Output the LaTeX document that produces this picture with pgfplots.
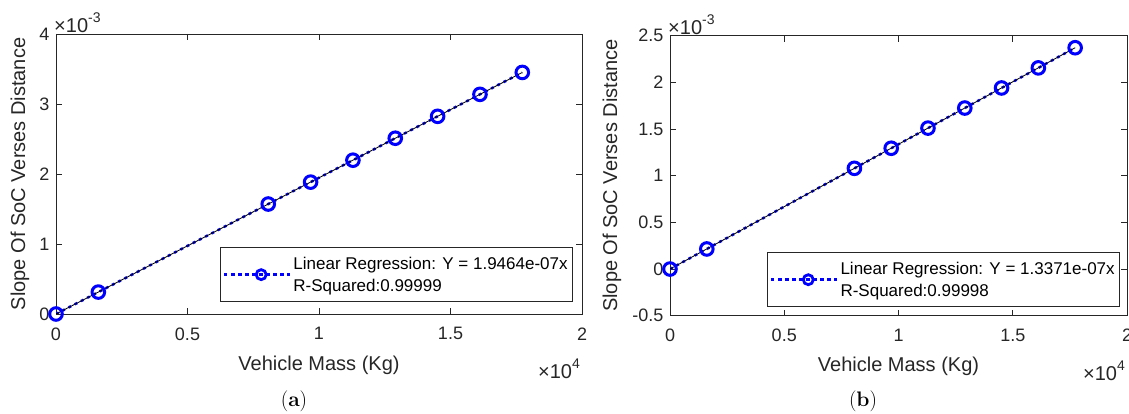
\documentclass[border=0pt]{standalone}
\usepackage{pgfplots}
\pgfplotsset{compat=1.18}
\usepackage{fontspec}
\newfontfamily\arial{Liberation Sans}

\pgfplotsset{
  matlab/.style={
    scale only axis,
    font=\arial\fontsize{18}{20}\selectfont,
    /pgf/number format/assume math mode=true,
    axis line style={black!85, line width=0.8pt},
    tick style={black!85, line width=0.8pt},
    tick align=inside,
    major tick length=6pt,
    every tick label/.append style={text=black!85},
    xticklabel style={yshift=-10pt},
    yticklabel style={xshift=-3pt},
    scaled x ticks=base 10:-4,
    scaled y ticks=base 10:3,
    xtick scale label code/.code={\arial\fontsize{20}{22}\selectfont ×10\raisebox{0.5em}{\fontsize{14}{15}\selectfont 4}},
    ytick scale label code/.code={\arial\fontsize{20}{22}\selectfont ×10\raisebox{0.5em}{\fontsize{14}{15}\selectfont -3}},
    every x tick scale label/.style={at={(rel axis cs:1,0)}, anchor=base east, xshift=-2pt, yshift=-55pt, inner sep=0pt, text=black!85},
    every y tick scale label/.style={at={(rel axis cs:0,1)}, anchor=base west, xshift=1pt, yshift=1.5pt, inner sep=0pt, text=black!85},
    xlabel style={font=\arial\fontsize{20}{22}\selectfont, text=black!85, at={(axis description cs:0.5,0)}, anchor=center, yshift=-51pt},
    ylabel style={font=\arial\fontsize{20}{22}\selectfont, text=black!85},
    xmin=0, xmax=20000,
    xtick={0,5000,10000,15000,20000},
    legend style={anchor=south east, draw=black!85, line width=0.8pt, fill=white,
      font=\arial\fontsize{17}{22}\selectfont, cells={align=left}, inner xsep=3pt, inner ysep=7pt},
    legend image code/.code={\path (-8pt,0pt) -- (58pt,0pt);\draw[mark repeat=2, mark phase=2, ##1, mark size=5pt, mark options={solid, line width=2.8pt}] plot coordinates {(0pt,0pt) (29pt,0pt) (58pt,0pt)};},
    data/.style={blue, line width=2.5pt, dash pattern=on 3pt off 4pt, mark=o, mark size=6.3pt, mark options={solid, line width=3pt}},
    fit/.style={black, line width=0.8pt, no marks, forget plot},
  }
}

\pgfplotstableread{
x y
0 0
1610 0.000313
8070 0.001571
9680 0.001884
11290 0.002197
12900 0.002511
14510 0.002824
16120 0.003138
17730 0.003451
}\dataA

\pgfplotstableread{
x y
0 0
1610 0.000215
8070 0.001079
9680 0.001294
11290 0.001510
12900 0.001725
14510 0.001940
16120 0.002155
17730 0.002371
}\dataB

\begin{document}
\begin{tikzpicture}
\useasboundingbox (0,0) rectangle (1129pt,414pt);

\begin{axis}[matlab,
  at={(56pt,100pt)}, anchor=south west,
  width=526pt, height=280pt,
  ymin=0, ymax=0.004,
  ytick={0,0.001,0.002,0.003,0.004},
  xlabel={Vehicle Mass (Kg)},
  ylabel={Slope Of SoC Verses Distance},
  ylabel style={at={(axis description cs:-0.0684,0.5)}, anchor=center},
  legend style={at={(rel axis cs:0.983,0.043)}},
]
\addplot[data] table {\dataA};
\addlegendentry{Linear Regression: Y = 1.9464e-07x\\R-Squared:0.99999}
\addplot[fit] coordinates {(0,0) (17730,0.003451)};
\end{axis}

\begin{axis}[matlab,
  at={(670pt,98.3pt)}, anchor=south west,
  width=457pt, height=280pt,
  ymin=-0.0005, ymax=0.0025,
  ytick={-0.0005,0,0.0005,0.001,0.0015,0.002,0.0025},
  xlabel={Vehicle Mass (Kg)},
  ylabel={Slope Of SoC Verses Distance},
  ylabel style={at={(axis description cs:-0.1269,0.5)}, anchor=center},
  legend style={at={(rel axis cs:0.985,0.031)}},
]
\addplot[data] table {\dataB};
\addlegendentry{Linear Regression: Y = 1.3371e-07x\\R-Squared:0.99998}
\addplot[fit] coordinates {(0,0) (17730,0.002371)};
\end{axis}

\node[font=\fontsize{21}{23}\selectfont] at (294pt,13pt) {(\textbf{a})};
\node[font=\fontsize{21}{23}\selectfont] at (863pt,13pt) {(\textbf{b})};
\end{tikzpicture}
\end{document}
